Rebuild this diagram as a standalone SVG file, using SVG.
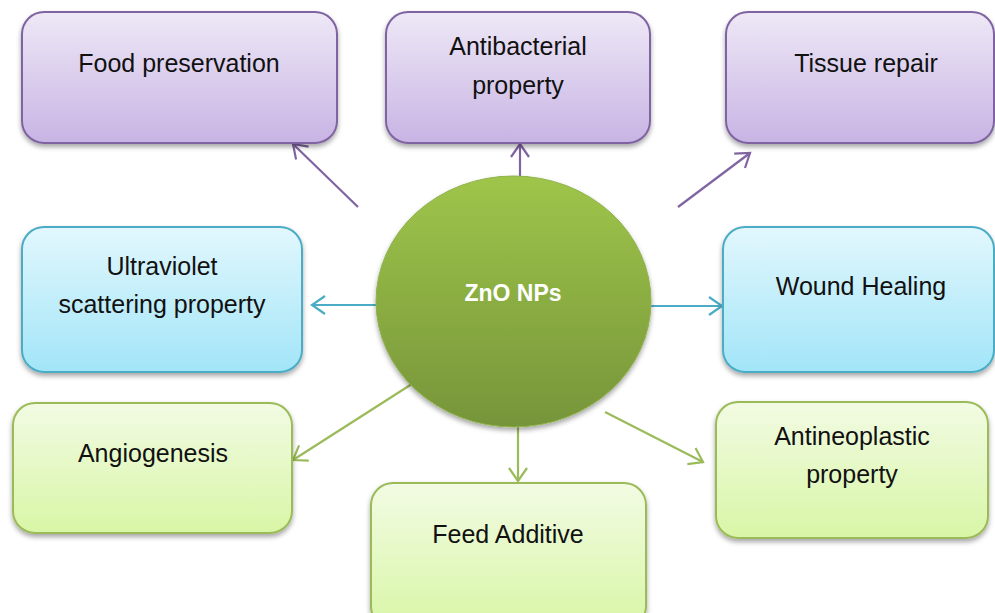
<svg xmlns="http://www.w3.org/2000/svg" width="995" height="613" viewBox="0 0 995 613">
  <defs>
    <linearGradient id="gPurple" x1="0" y1="0" x2="0" y2="1">
      <stop offset="0" stop-color="#eee8f6"/>
      <stop offset="1" stop-color="#c8b4e4"/>
    </linearGradient>
    <linearGradient id="gBlue" x1="0" y1="0" x2="0" y2="1">
      <stop offset="0" stop-color="#e2f7fd"/>
      <stop offset="1" stop-color="#a2e5f8"/>
    </linearGradient>
    <linearGradient id="gGreen" x1="0" y1="0" x2="0" y2="1">
      <stop offset="0" stop-color="#f2fbe3"/>
      <stop offset="1" stop-color="#d8f6a6"/>
    </linearGradient>
    <linearGradient id="gCircle" x1="0" y1="0" x2="0" y2="1">
      <stop offset="0" stop-color="#9fc54a"/>
      <stop offset="1" stop-color="#76953a"/>
    </linearGradient>
    <filter id="shadow" x="-10%" y="-10%" width="120%" height="130%">
      <feDropShadow dx="0" dy="3" stdDeviation="2.5" flood-color="#000" flood-opacity="0.35"/>
    </filter>
    <marker id="aPurple" viewBox="-15 -11 18 22" refX="0" refY="0" markerWidth="18" markerHeight="22" markerUnits="userSpaceOnUse" orient="auto">
      <path d="M-13,-9 L0,0 L-13,9" fill="none" stroke="#8064a2" stroke-width="2.2"/>
    </marker>
    <marker id="aBlue" viewBox="-15 -11 18 22" refX="0" refY="0" markerWidth="18" markerHeight="22" markerUnits="userSpaceOnUse" orient="auto">
      <path d="M-13,-9 L0,0 L-13,9" fill="none" stroke="#4bacc6" stroke-width="2.2"/>
    </marker>
    <marker id="aGreen" viewBox="-15 -11 18 22" refX="0" refY="0" markerWidth="18" markerHeight="22" markerUnits="userSpaceOnUse" orient="auto">
      <path d="M-13,-9 L0,0 L-13,9" fill="none" stroke="#9bbb59" stroke-width="2.2"/>
    </marker>
  </defs>
  <style>
    .box { filter: url(#shadow); stroke-width: 2; }
    .purple { fill: url(#gPurple); stroke: #8064a2; }
    .blue { fill: url(#gBlue); stroke: #4bacc6; }
    .green { fill: url(#gGreen); stroke: #9bbb59; }
    .lbl { font-family: "Liberation Sans", Arial, sans-serif; font-size: 25px; fill: #111; text-anchor: middle; }
    .center { font-family: "Liberation Sans", Arial, sans-serif; font-size: 23px; font-weight: bold; fill: #fff; text-anchor: middle; }
    .cp { stroke: #8064a2; stroke-width: 2.2; fill: none; marker-end: url(#aPurple); }
    .cb { stroke: #4bacc6; stroke-width: 2.2; fill: none; marker-end: url(#aBlue); }
    .cg { stroke: #9bbb59; stroke-width: 2.2; fill: none; marker-end: url(#aGreen); }
  </style>
  <rect width="995" height="613" fill="#fff"/>

  <g id="connectors">
    <line class="cp" x1="358" y1="207" x2="293" y2="144"/>
    <line class="cp" x1="520" y1="177" x2="520" y2="144"/>
    <line class="cp" x1="678" y1="207" x2="750" y2="153"/>
    <line class="cb" x1="377" y1="305" x2="312" y2="305"/>
    <line class="cb" x1="650" y1="306" x2="722" y2="306"/>
    <line class="cg" x1="415" y1="382" x2="293" y2="460"/>
    <line class="cg" x1="518" y1="427" x2="518" y2="481"/>
    <line class="cg" x1="605" y1="412" x2="703" y2="462"/>
  </g>

  <g id="food-preservation">
    <rect class="box purple" x="22" y="12" width="315" height="131" rx="22"/>
    <text class="lbl" x="179" y="72">Food preservation</text>
  </g>
  <g id="antibacterial-property">
    <rect class="box purple" x="386" y="12" width="264" height="131" rx="22"/>
    <text class="lbl" x="518" y="55">Antibacterial</text>
    <text class="lbl" x="518" y="94">property</text>
  </g>
  <g id="tissue-repair">
    <rect class="box purple" x="726" y="12" width="268" height="131" rx="22"/>
    <text class="lbl" x="866" y="72">Tissue repair</text>
  </g>
  <g id="ultraviolet-scattering">
    <rect class="box blue" x="22" y="227" width="280" height="145" rx="22"/>
    <text class="lbl" x="162" y="275">Ultraviolet</text>
    <text class="lbl" x="162" y="313">scattering property</text>
  </g>
  <g id="wound-healing">
    <rect class="box blue" x="723" y="227" width="271" height="145" rx="22"/>
    <text class="lbl" x="861" y="295">Wound Healing</text>
  </g>
  <g id="angiogenesis">
    <rect class="box green" x="13" y="403" width="279" height="130" rx="22"/>
    <text class="lbl" x="153" y="462">Angiogenesis</text>
  </g>
  <g id="feed-additive">
    <rect class="box green" x="371" y="483" width="275" height="145" rx="22"/>
    <text class="lbl" x="508" y="543">Feed Additive</text>
  </g>
  <g id="antineoplastic-property">
    <rect class="box green" x="716" y="402" width="272" height="136" rx="22"/>
    <text class="lbl" x="852" y="445">Antineoplastic</text>
    <text class="lbl" x="852" y="483">property</text>
  </g>

  <g id="zno-nps">
    <ellipse cx="513.5" cy="301.5" rx="137.5" ry="125.5" fill="url(#gCircle)" filter="url(#shadow)" stroke="#8fb24a" stroke-width="1"/>
    <text class="center" x="513" y="301">ZnO NPs</text>
  </g>
</svg>
